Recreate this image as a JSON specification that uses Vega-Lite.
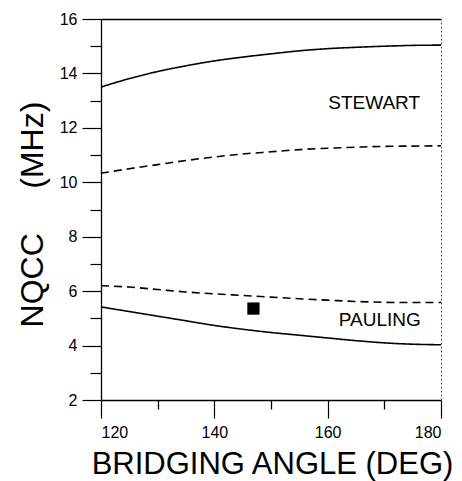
{
  "$schema": "https://vega.github.io/schema/vega-lite/v6.json",
  "width": 340,
  "height": 381,
  "autosize": "none",
  "padding": {"left": 101, "top": 19, "right": 21, "bottom": 81},
  "background": "white",
  "config": {
    "view": {"stroke": null},
    "font": "Liberation Sans",
    "axis": {"grid": false, "domainColor": "black", "tickColor": "black", "labelColor": "black", "titleColor": "black", "domainWidth": 1.3, "tickWidth": 1.2, "labelFont": "Liberation Sans", "titleFont": "Liberation Sans", "titleFontWeight": "normal"}
  },
  "datasets": {
    "curves": [
      {"angle": 120, "nqcc": 13.5, "curve": "Stewart solid", "style": "solid"},
      {"angle": 125, "nqcc": 13.81, "curve": "Stewart solid", "style": "solid"},
      {"angle": 130, "nqcc": 14.07, "curve": "Stewart solid", "style": "solid"},
      {"angle": 135, "nqcc": 14.28, "curve": "Stewart solid", "style": "solid"},
      {"angle": 140, "nqcc": 14.46, "curve": "Stewart solid", "style": "solid"},
      {"angle": 145, "nqcc": 14.6, "curve": "Stewart solid", "style": "solid"},
      {"angle": 150, "nqcc": 14.72, "curve": "Stewart solid", "style": "solid"},
      {"angle": 155, "nqcc": 14.83, "curve": "Stewart solid", "style": "solid"},
      {"angle": 160, "nqcc": 14.91, "curve": "Stewart solid", "style": "solid"},
      {"angle": 165, "nqcc": 14.96, "curve": "Stewart solid", "style": "solid"},
      {"angle": 170, "nqcc": 15.0, "curve": "Stewart solid", "style": "solid"},
      {"angle": 175, "nqcc": 15.03, "curve": "Stewart solid", "style": "solid"},
      {"angle": 180, "nqcc": 15.04, "curve": "Stewart solid", "style": "solid"},
      {"angle": 120, "nqcc": 10.33, "curve": "Stewart dashed", "style": "dashed"},
      {"angle": 125, "nqcc": 10.5, "curve": "Stewart dashed", "style": "dashed"},
      {"angle": 130, "nqcc": 10.65, "curve": "Stewart dashed", "style": "dashed"},
      {"angle": 135, "nqcc": 10.8, "curve": "Stewart dashed", "style": "dashed"},
      {"angle": 140, "nqcc": 10.93, "curve": "Stewart dashed", "style": "dashed"},
      {"angle": 145, "nqcc": 11.04, "curve": "Stewart dashed", "style": "dashed"},
      {"angle": 150, "nqcc": 11.12, "curve": "Stewart dashed", "style": "dashed"},
      {"angle": 155, "nqcc": 11.2, "curve": "Stewart dashed", "style": "dashed"},
      {"angle": 160, "nqcc": 11.25, "curve": "Stewart dashed", "style": "dashed"},
      {"angle": 165, "nqcc": 11.29, "curve": "Stewart dashed", "style": "dashed"},
      {"angle": 170, "nqcc": 11.32, "curve": "Stewart dashed", "style": "dashed"},
      {"angle": 175, "nqcc": 11.33, "curve": "Stewart dashed", "style": "dashed"},
      {"angle": 180, "nqcc": 11.34, "curve": "Stewart dashed", "style": "dashed"},
      {"angle": 120, "nqcc": 6.2, "curve": "Pauling dashed", "style": "dashed"},
      {"angle": 125, "nqcc": 6.15, "curve": "Pauling dashed", "style": "dashed"},
      {"angle": 130, "nqcc": 6.06, "curve": "Pauling dashed", "style": "dashed"},
      {"angle": 135, "nqcc": 5.97, "curve": "Pauling dashed", "style": "dashed"},
      {"angle": 140, "nqcc": 5.9, "curve": "Pauling dashed", "style": "dashed"},
      {"angle": 145, "nqcc": 5.84, "curve": "Pauling dashed", "style": "dashed"},
      {"angle": 150, "nqcc": 5.78, "curve": "Pauling dashed", "style": "dashed"},
      {"angle": 155, "nqcc": 5.72, "curve": "Pauling dashed", "style": "dashed"},
      {"angle": 160, "nqcc": 5.67, "curve": "Pauling dashed", "style": "dashed"},
      {"angle": 165, "nqcc": 5.62, "curve": "Pauling dashed", "style": "dashed"},
      {"angle": 170, "nqcc": 5.59, "curve": "Pauling dashed", "style": "dashed"},
      {"angle": 175, "nqcc": 5.58, "curve": "Pauling dashed", "style": "dashed"},
      {"angle": 180, "nqcc": 5.58, "curve": "Pauling dashed", "style": "dashed"},
      {"angle": 120, "nqcc": 5.42, "curve": "Pauling solid", "style": "solid"},
      {"angle": 125, "nqcc": 5.25, "curve": "Pauling solid", "style": "solid"},
      {"angle": 130, "nqcc": 5.08, "curve": "Pauling solid", "style": "solid"},
      {"angle": 135, "nqcc": 4.91, "curve": "Pauling solid", "style": "solid"},
      {"angle": 140, "nqcc": 4.74, "curve": "Pauling solid", "style": "solid"},
      {"angle": 145, "nqcc": 4.6, "curve": "Pauling solid", "style": "solid"},
      {"angle": 150, "nqcc": 4.48, "curve": "Pauling solid", "style": "solid"},
      {"angle": 155, "nqcc": 4.38, "curve": "Pauling solid", "style": "solid"},
      {"angle": 160, "nqcc": 4.28, "curve": "Pauling solid", "style": "solid"},
      {"angle": 165, "nqcc": 4.18, "curve": "Pauling solid", "style": "solid"},
      {"angle": 170, "nqcc": 4.1, "curve": "Pauling solid", "style": "solid"},
      {"angle": 175, "nqcc": 4.05, "curve": "Pauling solid", "style": "solid"},
      {"angle": 180, "nqcc": 4.03, "curve": "Pauling solid", "style": "solid"}
    ],
    "point": [{"angle": 146.9, "nqcc": 5.36}],
    "labels": [
      {"angle": 168.2, "nqcc": 12.9, "text": "STEWART"},
      {"angle": 169.2, "nqcc": 4.95, "text": "PAULING"}
    ]
  },
  "resolve": {"axis": {"x": "independent", "y": "independent"}},
  "layer": [
    {
      "data": {"name": "curves"},
      "mark": {"type": "line", "color": "black", "strokeWidth": 1.6, "interpolate": "monotone"},
      "encoding": {
        "x": {"field": "angle", "type": "quantitative", "scale": {"domain": [120, 180], "nice": false, "zero": false},
          "axis": {"orient": "bottom", "values": [120, 140, 160, 180], "tickSize": 18, "labelPadding": 6, "labelFontSize": 16, "labelBaseline": "top",
            "title": "BRIDGING ANGLE (DEG)", "titleFontSize": 31, "titleX": 171, "titleY": 73, "titleAlign": "center", "titleBaseline": "alphabetic"}},
        "y": {"field": "nqcc", "type": "quantitative", "scale": {"domain": [2, 16], "nice": false, "zero": false},
          "axis": {"orient": "left", "values": [2, 4, 6, 8, 10, 12, 14, 16], "tickSize": 19, "labelPadding": 5, "labelFontSize": 16, "labelBaseline": "middle",
            "title": "NQCC\u00a0\u00a0\u00a0\u00a0\u00a0(MHz)", "titleFontSize": 32, "titleX": -59, "titleY": 195, "titleAngle": 270, "titleAlign": "center", "titleBaseline": "alphabetic"}},
        "detail": {"field": "curve"},
        "strokeDash": {"field": "style", "type": "nominal", "scale": {"domain": ["solid", "dashed"], "range": [[1, 0], [8, 5]]}, "legend": null}
      }
    },
    {
      "data": {"name": "point"},
      "mark": {"type": "point", "shape": "square", "filled": true, "color": "black", "size": 150, "opacity": 1},
      "encoding": {
        "x": {"field": "angle", "type": "quantitative",
          "axis": {"orient": "bottom", "values": [130, 150, 170], "tickSize": 9, "tickWidth": 1.3, "labels": false, "domain": false, "title": null}},
        "y": {"field": "nqcc", "type": "quantitative",
          "axis": {"orient": "left", "values": [3, 5, 7, 9, 11, 13, 15], "tickSize": 11, "labels": false, "domain": false, "title": null}}
      }
    },
    {
      "data": {"name": "labels"},
      "mark": {"type": "text", "fontSize": 19, "font": "Liberation Sans", "align": "center", "baseline": "middle", "color": "black"},
      "encoding": {
        "x": {"field": "angle", "type": "quantitative",
          "axis": {"orient": "top", "ticks": false, "labels": false, "domain": true, "title": null}},
        "y": {"field": "nqcc", "type": "quantitative",
          "axis": {"orient": "right", "ticks": false, "labels": false, "domain": true, "domainDash": [2, 2], "domainColor": "#555", "domainWidth": 1, "title": null}},
        "text": {"field": "text"}
      }
    }
  ]
}
